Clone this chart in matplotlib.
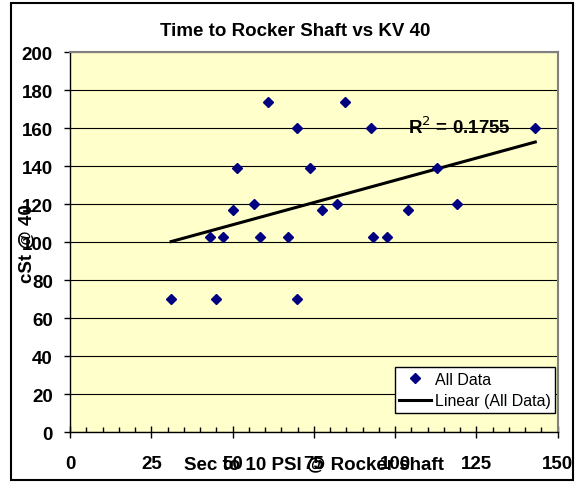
import numpy as np
import matplotlib
matplotlib.use("Agg")
import matplotlib.pyplot as plt
from matplotlib.patches import Rectangle
from matplotlib.ticker import MultipleLocator

plt.rcParams['font.family'] = ['Liberation Sans', 'DejaVu Sans']

# sec to 10 psi vs viscosity at 40C
sec_to_10psi = [31.1, 43.0, 45.0, 47.2, 50.0, 51.5, 56.5, 58.3, 61.0, 67.1, 69.9, 69.9,
                73.8, 77.6, 82.0, 84.5, 92.6, 93.1, 97.5, 104.1, 113.0, 119.0, 143.1]
kv40 = [70, 103, 70, 103, 117, 139, 120, 103, 174, 103, 160, 70,
        139, 117, 120, 174, 160, 103, 103, 117, 139, 120, 160]

title = "Time to Rocker Shaft vs KV 40"
xlabel = "Sec to 10 PSI @ Rocker shaft"
ylabel = "cSt @ 40"
r2_text = "R$^2$ = 0.1755"

x = np.array(sec_to_10psi)
y = np.array(kv40)
m, b = np.polyfit(x, y, 1)
xl = np.array([x.min(), x.max()])

fig = plt.figure(figsize=(5.84, 4.85), dpi=100)
ax = fig.add_axes([0.1199, 0.1066, 0.8351, 0.7835])
ax.set_facecolor('#FFFFCC')

ax.plot(x, y, 'D', color='#000080', ms=5.5, label='All Data', zorder=3)
ax.plot(xl, m * xl + b, color='black', lw=2.2, label='Linear (All Data)', zorder=2)

ax.set_xlim(0, 150)
ax.set_ylim(0, 200)
ax.xaxis.set_major_locator(MultipleLocator(25))
ax.xaxis.set_minor_locator(MultipleLocator(5))
ax.yaxis.set_major_locator(MultipleLocator(20))
ax.grid(axis='y', color='black', lw=0.8)
ax.set_axisbelow(True)

ax.tick_params(axis='x', which='major', direction='inout', length=8, width=1,
               labelsize=13.5, pad=12)
ax.tick_params(axis='x', which='minor', direction='in', length=3.6, width=1)
ax.tick_params(axis='y', which='major', direction='out', length=4.3, width=1,
               labelsize=13.5, pad=8)
for lab in ax.get_xticklabels() + ax.get_yticklabels():
    lab.set_fontweight('bold')

for s in ['top', 'right']:
    ax.spines[s].set_color('#808080')
    ax.spines[s].set_linewidth(1.5)
for s in ['left', 'bottom']:
    ax.spines[s].set_color('black')
    ax.spines[s].set_linewidth(1)

ax.set_xlabel(xlabel, fontsize=13.5, fontweight='bold', va='center')
ax.xaxis.set_label_coords(0.5, -0.084)
ax.set_ylabel(ylabel, fontsize=13.5, fontweight='bold', va='center')
ax.yaxis.set_label_coords(-0.088, 0.5)

ax.text(0.693, 0.805, r2_text, transform=ax.transAxes, fontsize=13.5,
        fontweight='bold', ha='left', va='center')

leg = ax.legend(loc='lower right', bbox_to_anchor=(0.995, 0.051), borderaxespad=0,
                fancybox=False, framealpha=1, edgecolor='black', fontsize=11.5,
                handlelength=2.0, handletextpad=0.2, borderpad=0.3, labelspacing=0.4)
leg.get_frame().set_linewidth(1)

fig.text(295 / 584, 1 - 31 / 485, title, ha='center', va='center',
         fontsize=13.5, fontweight='bold')

fig.patches.append(Rectangle((11 / 584, 4 / 485), 562 / 584, 477 / 485,
                             transform=fig.transFigure, fill=False,
                             edgecolor='black', lw=1.5))

fig.savefig('out.png', dpi=100)
